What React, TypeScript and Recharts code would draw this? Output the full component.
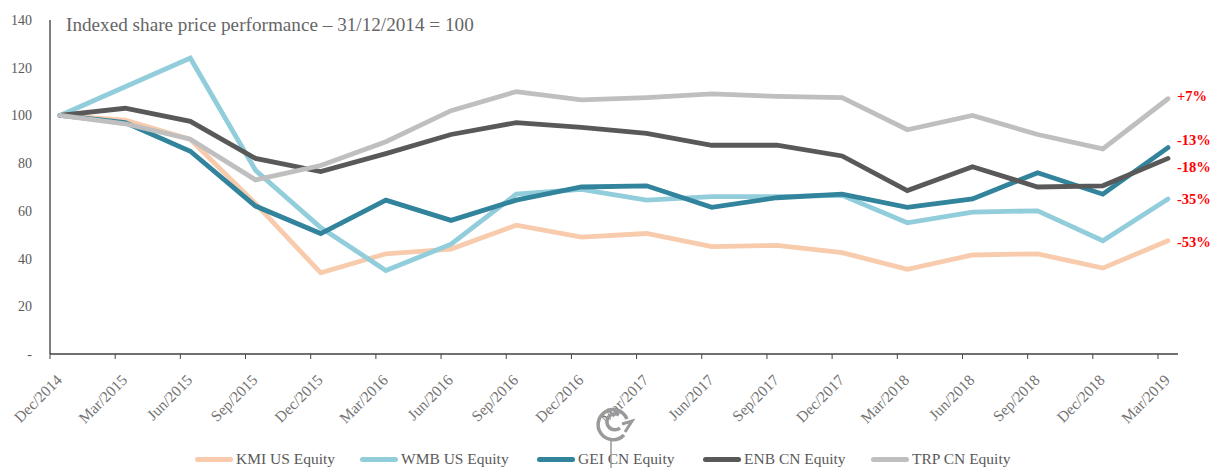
import React from 'react';
import { LabelList, Legend, Line, LineChart, XAxis, YAxis } from 'recharts';

const categories = [
  'Dec/2014', 'Mar/2015', 'Jun/2015', 'Sep/2015', 'Dec/2015', 'Mar/2016',
  'Jun/2016', 'Sep/2016', 'Dec/2016', 'Mar/2017', 'Jun/2017', 'Sep/2017',
  'Dec/2017', 'Mar/2018', 'Jun/2018', 'Sep/2018', 'Dec/2018', 'Mar/2019',
];
const kmi = [100, 98, 90, 63, 34, 42, 44, 54, 49, 50.5, 45, 45.5, 42.5, 35.5, 41.5, 42, 36, 47.5];
const wmb = [100, 112, 124, 77, 53, 35, 46, 67, 69, 64.5, 66, 66, 66.5, 55, 59.5, 60, 47.5, 65];
const gei = [100, 97, 85, 62, 50.5, 64.5, 56, 64.5, 70, 70.5, 61.5, 65.5, 67, 61.5, 65, 76, 67, 86.5];
const enb = [100, 103, 97.5, 82, 76.5, 84, 92, 97, 95, 92.5, 87.5, 87.5, 83, 68.5, 78.5, 70, 70.5, 82];
const trp = [100, 96.5, 90, 73, 79, 89, 102, 110, 106.5, 107.5, 109, 108, 107.5, 94, 100, 92, 86, 107];
const yTicks = [0, 20, 40, 60, 80, 100, 120, 140];

const series = [
  { key: 'kmi', name: 'KMI US Equity', values: kmi, color: '#F8CBAD', end: '-53%', endDy: 1, legendX: 195 },
  { key: 'wmb', name: 'WMB US Equity', values: wmb, color: '#92CDDC', end: '-35%', endDy: 0, legendX: 360 },
  { key: 'gei', name: 'GEI CN Equity', values: gei, color: '#31849B', end: '-13%', endDy: -8, legendX: 537 },
  { key: 'enb', name: 'ENB CN Equity', values: enb, color: '#595959', end: '-18%', endDy: 9, legendX: 703 },
  { key: 'trp', name: 'TRP CN Equity', values: trp, color: '#BFBFBF', end: '+7%', endDy: -3, legendX: 871 },
];

const data = categories.map((month, i) => {
  const row: Record<string, string | number> = { month };
  series.forEach((s) => {
    row[s.key] = s.values[i];
  });
  return row;
});

const FONT = '"Liberation Serif", serif';

function MonthTick({ x, y, payload }: any) {
  return (
    <g>
      <line x1={x - 10} x2={x - 10} y1={y - 8} y2={y - 3} stroke="#404040" strokeWidth={1} />
      <text
        transform={`translate(${x + 3},${y + 19}) rotate(-45)`}
        textAnchor="end"
        fontFamily={FONT}
        fontSize={15.5}
        fill="#737373"
      >
        {payload.value}
      </text>
    </g>
  );
}

function LegendRow() {
  return (
    <div style={{ position: 'relative', width: 1210, height: 30 }}>
      {series.map((s) => (
        <div key={s.key}>
          <div
            style={{
              position: 'absolute',
              left: s.legendX,
              top: 19,
              width: 38,
              height: 5,
              borderRadius: 3,
              background: s.color,
            }}
          />
          <span
            style={{
              position: 'absolute',
              left: s.legendX + 41,
              top: 12,
              fontFamily: FONT,
              fontSize: 15.5,
              color: '#595959',
              whiteSpace: 'nowrap',
            }}
          >
            {s.name}
          </span>
        </div>
      ))}
    </div>
  );
}

function endLabel(text: string, dy: number) {
  return (props: any) => {
    if (props.index !== categories.length - 1) return null;
    return (
      <text
        x={props.x + 9}
        y={props.y + dy + 5}
        fontFamily={FONT}
        fontSize={14.5}
        fontWeight="bold"
        fill="#FF0000"
      >
        {text}
      </text>
    );
  };
}

export default function App() {
  return (
    <div style={{ position: 'absolute', left: 0, top: 0, width: 1210, height: 468, background: '#fff', overflow: 'hidden' }}>
      <LineChart
        width={1210}
        height={468}
        data={data}
        margin={{ top: 20, right: 32, left: 0, bottom: 0 }}
      >
        <XAxis
          dataKey="month"
          interval={0}
          height={84}
          padding={{ left: 10, right: 10 }}
          tickLine={false}
          axisLine={{ stroke: '#404040', strokeWidth: 1.5 }}
          tick={<MonthTick />}
        />
        <YAxis
          width={50}
          domain={[0, 140]}
          ticks={yTicks}
          tickLine={false}
          axisLine={{ stroke: '#000000', strokeWidth: 1 }}
          tickMargin={17}
          tickFormatter={(v: number) => (v === 0 ? '-' : String(v))}
          tick={{ fontFamily: FONT, fontSize: 14, fill: '#595959', dx: 5 }}
        />
        <Legend height={30} wrapperStyle={{ left: 0, width: 1210 }} content={<LegendRow />} />
        {series.map((s) => (
          <Line
            key={s.key}
            dataKey={s.key}
            name={s.name}
            stroke={s.color}
            strokeWidth={4.8}
            strokeLinecap="round"
            dot={false}
            isAnimationActive={false}
          >
            <LabelList dataKey={s.key} content={endLabel(s.end, s.endDy)} />
          </Line>
        ))}
      </LineChart>
      <div
        style={{
          position: 'absolute',
          left: 66,
          top: 14,
          fontFamily: FONT,
          fontSize: 19.2,
          color: '#666666',
          whiteSpace: 'nowrap',
        }}
      >
        Indexed share price performance – 31/12/2014 = 100
      </div>
      {/* loading cursor caught in the screenshot */}
      <svg width={1210} height={468} style={{ position: 'absolute', left: 0, top: 0, pointerEvents: 'none' }}>
        <g fill="none" stroke="#9a9a9a" strokeWidth={3.5}>
          <path d="M 624 435 A 15 15 0 1 1 627 419" />
          <path d="M 620 428 A 8 8 0 1 1 619 415" />
          <path d="M 622 424 L 632 421 L 625 432" strokeWidth={3} />
          <line x1={611} x2={611} y1={438} y2={468} strokeWidth={1.5} />
        </g>
      </svg>
    </div>
  );
}
